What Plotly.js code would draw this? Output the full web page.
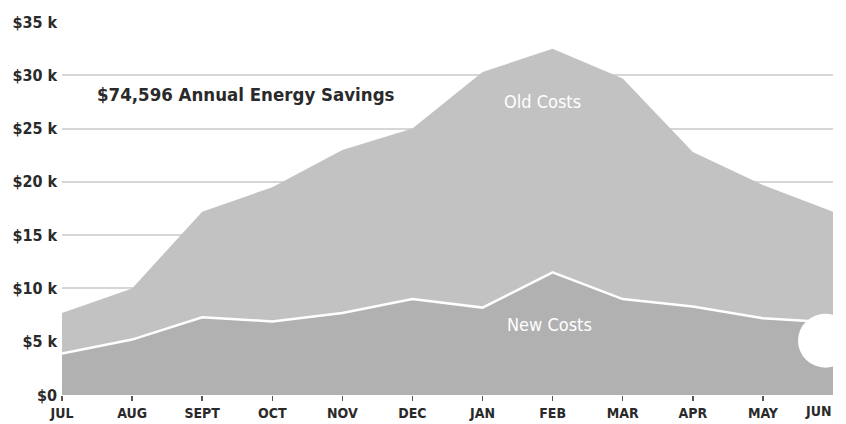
<!DOCTYPE html>
<html>
<head>
<meta charset="utf-8">
<script src="https://cdn.plot.ly/plotly-3.0.1.min.js"></script>
<style>html,body{margin:0;padding:0;background:#fff;}#chart{width:846px;height:424px;}</style>
</head>
<body>
<div id="chart"></div>
<script>
const months = ["JUL","AUG","SEPT","OCT","NOV","DEC","JAN","FEB","MAR","APR","MAY","JUN"];
const oldCosts = [7700,10000,17200,19500,23000,25000,30300,32500,29700,22800,19700,17200];
const newCosts = [3900,5200,7300,6900,7700,9000,8200,11500,9000,8300,7200,6800];
const yTickVals = [0,5000,10000,15000,20000,25000,30000,35000];
const yTickText = ["$0","$5 k","$10 k","$15 k","$20 k","$25 k","$30 k","$35 k"];
const savingsLabel = "$74,596 Annual Energy Savings";

const FONT = "DejaVu Sans Condensed, Liberation Sans Narrow, Roboto, sans-serif";
const xIdx = months.map((m,i)=>i);

const traces = [
  {x: xIdx, y: oldCosts, type:'scatter', mode:'lines', fill:'tozeroy',
   line:{color:'#c2c2c2', width:0}, fillcolor:'#c2c2c2', hoverinfo:'skip'},
  {x: xIdx, y: newCosts, type:'scatter', mode:'lines', fill:'tozeroy',
   line:{color:'#ffffff', width:2.5, shape:'linear'}, fillcolor:'#b1b1b1', hoverinfo:'skip'}
];

const layout = {
  width:846, height:424,
  margin:{l:62, r:13, t:22, b:29},
  paper_bgcolor:'#ffffff', plot_bgcolor:'#ffffff',
  showlegend:false,
  xaxis:{range:[0,11], tickmode:'array', tickvals:xIdx.slice(0,11), ticktext:months.slice(0,11),
    showgrid:false, zeroline:false, showline:false,
    ticks:'outside', ticklen:5, tickwidth:1.5, tickcolor:'#555',
    tickfont:{family:FONT, size:14, color:'#2a2a2a', weight:'bold'}, fixedrange:true},
  yaxis:{range:[0,35000], tickmode:'array', tickvals:yTickVals, ticktext:yTickText,
    showgrid:true, gridcolor:'rgba(0,0,0,0.16)', gridwidth:2, layer:'above traces',
    zeroline:false, showline:false, ticks:'', ticklabelstandoff:4,
    tickfont:{family:FONT, size:16, color:'#2a2a2a', weight:'bold'}, fixedrange:true},
  annotations:[
    {xref:'paper', yref:'paper', x:0.043, y:0.805, xanchor:'left', yanchor:'middle',
     text:savingsLabel, showarrow:false,
     font:{family:FONT, size:18.5, color:'#2a2a2a', weight:'bold'}},
    {xref:'x', yref:'y', x:6.85, y:27500, xanchor:'center', yanchor:'middle',
     text:'Old Costs', showarrow:false, font:{family:FONT, size:18, color:'#ffffff'}},
    {xref:'x', yref:'y', x:6.95, y:6600, xanchor:'center', yanchor:'middle',
     text:'New Costs', showarrow:false, font:{family:FONT, size:18, color:'#ffffff'}},
    {xref:'x', yref:'paper', x:11, y:0, xanchor:'right', yanchor:'top', yshift:-6,
     text:months[11], showarrow:false, font:{family:FONT, size:14, color:'#2a2a2a', weight:'bold'}}
  ],
  shapes:[
    {type:'line', xref:'x', yref:'paper', x0:11, x1:11, y0:0, y1:0, ysizemode:'pixel', yanchor:0,
     line:{color:'#555', width:1.5}},
    {type:'circle', xref:'paper', yref:'paper', xsizemode:'pixel', ysizemode:'pixel',
     xanchor:1, yanchor:0.1457, x0:-35, x1:20, y0:-27, y1:27,
     fillcolor:'#ffffff', line:{width:0}, layer:'above'}
  ]
};

Plotly.newPlot('chart', traces, layout, {displayModeBar:false, staticPlot:true});
</script>
</body>
</html>
